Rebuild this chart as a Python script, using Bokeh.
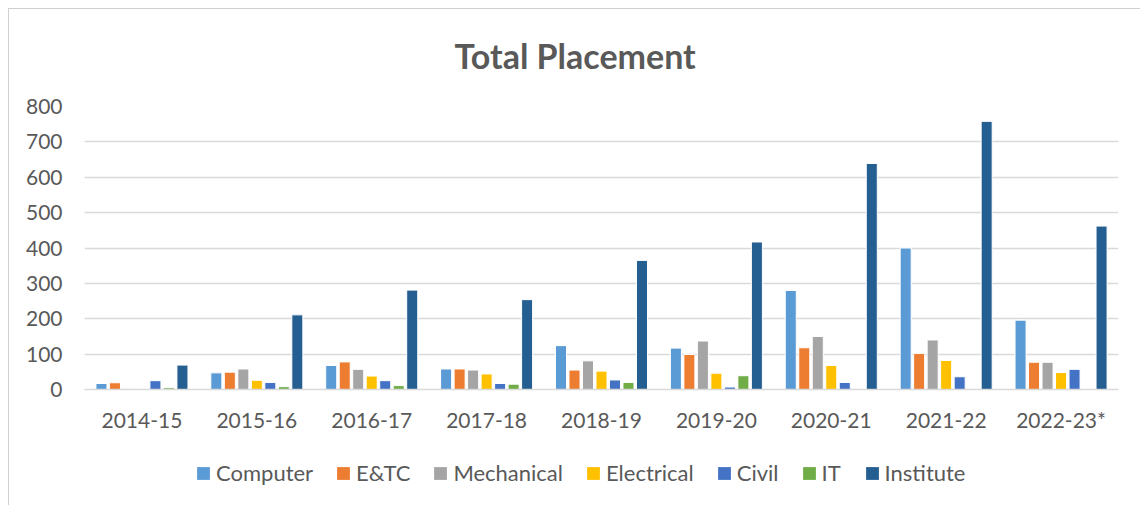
from bokeh.plotting import figure
from bokeh.models import Legend, LegendItem, FactorRange, Title, ColumnDataSource, Range1d
from bokeh.layouts import column
from bokeh.transform import dodge
from bokeh.embed import file_html
from bokeh.resources import INLINE

years = ["2014-15", "2015-16", "2016-17", "2017-18", "2018-19", "2019-20", "2020-21", "2021-22", "2022-23*"]
computer = [17, 47, 68, 58, 124, 117, 280, 400, 196]
etc = [19, 49, 78, 58, 55, 99, 118, 102, 77]
mechanical = [2, 58, 57, 55, 81, 137, 150, 140, 77]
electrical = [0, 26, 38, 44, 52, 46, 68, 82, 48]
civil = [25, 20, 25, 17, 27, 7, 20, 36, 57]
it = [5, 8, 11, 15, 20, 39, 0, 0, 0]
institute = [69, 211, 281, 254, 365, 417, 639, 758, 462]

series_names = ["Computer", "E&TC", "Mechanical", "Electrical", "Civil", "IT", "Institute"]
series_keys = ["computer", "etc", "mechanical", "electrical", "civil", "it", "institute"]
colors = ["#5B9BD5", "#ED7D31", "#A5A5A5", "#FFC000", "#4472C4", "#70AD47", "#255E91"]

source = ColumnDataSource(dict(years=years, computer=computer, etc=etc, mechanical=mechanical,
                               electrical=electrical, civil=civil, it=it, institute=institute))

FONT = "Lato"
GRAY = "#595959"
W = 1140

p = figure(x_range=FactorRange(*years), y_range=(0, 800), width=W, height=445,
           output_backend="svg", toolbar_location=None,
           min_border_left=84, min_border_right=W - 1118, min_border_top=106, min_border_bottom=56)
p.border_fill_color = None
p.background_fill_color = None

p.title = Title(text="Total Placement", align="left", text_font=FONT, text_font_size="34px",
                text_color=GRAY, text_font_style="bold", offset=370, standoff=62)

step = 0.1175
bw = 0.096
for i, (key, col) in enumerate(zip(series_keys, colors)):
    p.vbar(x=dodge("years", (i - 3) * step, range=p.x_range), top=key, width=bw,
           source=source, fill_color=col, line_color="white", line_width=1)

p.outline_line_color = None
p.xgrid.grid_line_color = None
p.ygrid.grid_line_color = "#d9d9d9"
p.ygrid.grid_line_width = 1.3

p.yaxis.ticker = [0, 100, 200, 300, 400, 500, 600, 700, 800]
p.yaxis.axis_line_color = None
p.yaxis.major_tick_line_color = None
p.yaxis.major_tick_out = 0
p.yaxis.major_tick_in = 0
p.yaxis.minor_tick_line_color = None
p.yaxis.major_label_standoff = 22
p.yaxis.major_label_text_font = FONT
p.yaxis.major_label_text_font_size = "21px"
p.yaxis.major_label_text_color = GRAY

p.xaxis.axis_line_color = "#d9d9d9"
p.xaxis.axis_line_width = 1.3
p.xaxis.major_tick_line_color = None
p.xaxis.major_tick_out = 0
p.xaxis.major_tick_in = 0
p.xaxis.minor_tick_line_color = None
p.xaxis.major_label_standoff = 17
p.xaxis.major_label_text_font = FONT
p.xaxis.major_label_text_font_size = "21px"
p.xaxis.major_label_text_color = GRAY

# legend strip below the chart
lf = figure(x_range=FactorRange(*years), y_range=Range1d(5000, 5001), width=W, height=60,
            output_backend="svg", toolbar_location=None,
            min_border_left=0, min_border_right=0, min_border_top=0, min_border_bottom=0)
lf.border_fill_color = None
lf.background_fill_color = None
lf.axis.visible = False
lf.grid.visible = False
lf.outline_line_color = None
items = []
for i, (name, key, col) in enumerate(zip(series_names, series_keys, colors)):
    r = lf.vbar(x=dodge("years", (i - 3) * step, range=lf.x_range), top=key, width=bw,
                source=source, fill_color=col, line_color=None)
    items.append(LegendItem(label=name, renderers=[r]))

legend = Legend(items=items, orientation="horizontal", location=(111, 19),
                label_text_font=FONT, label_text_font_size="22px", label_text_color=GRAY,
                glyph_width=16, glyph_height=16, label_standoff=5, spacing=22,
                border_line_color=None, background_fill_alpha=0, padding=0, margin=0)
lf.add_layout(legend)

layout = column(p, lf, spacing=0)
layout.styles = {
    "background-color": "white",
    "background-image": "linear-gradient(#d0d0d0, #d0d0d0), linear-gradient(#d0d0d0, #d0d0d0)",
    "background-size": "1px 100%, 100% 1px",
    "background-position": "8px 8px, 8px 8px",
    "background-repeat": "no-repeat",
}
open("out.html", "w").write(file_html(layout, INLINE))
